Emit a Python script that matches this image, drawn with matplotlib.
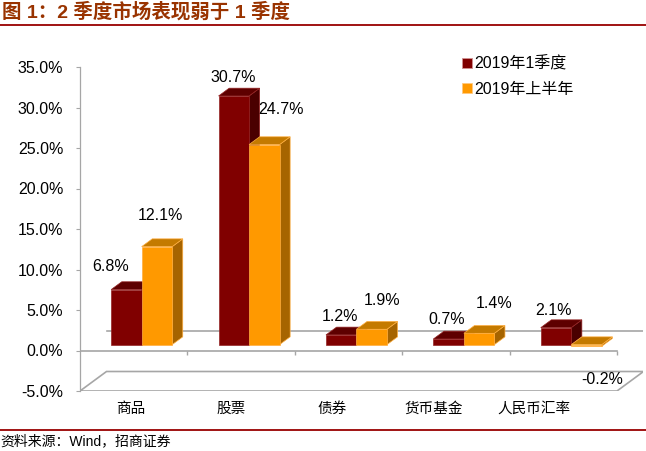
import matplotlib.pyplot as plt
from matplotlib.patches import Polygon, Patch
from matplotlib.lines import Line2D

plt.rcParams['font.family'] = ['Liberation Sans', 'Noto Sans CJK SC']

categories = ['商品', '股票', '债券', '货币基金', '人民币汇率']
q1_2019 = [6.8, 30.7, 1.2, 0.7, 2.1]
h1_2019 = [12.1, 24.7, 1.9, 1.4, -0.2]
series_names = ['2019年1季度', '2019年上半年']
y_ticks = [-5, 0, 5, 10, 15, 20, 25, 30, 35]

# label nudges in pixels (dx, dy) from the front-top centre of each bar
q1_label_nudge = [(-16, 23), (-1, 18), (-1, 18), (-2, 19), (-2, 17)]
h1_label_nudge = [(4, 31), (17, 35), (10, 29), (15, 30), (16, -33)]

W, H = 646, 451
fig = plt.figure(figsize=(W / 100, H / 100), dpi=100)

# plot box in pixels (front plane 80..617, depth goes up-right)
left_px, front_right_px, right_px, top_px, bottom_px = 80, 617, 643, 47, 391
px_per_unit = (front_right_px - left_px) / len(categories)
px_per_pct = 8.1
ax = fig.add_axes([left_px / W, (H - bottom_px) / H,
                   (right_px - left_px) / W, (bottom_px - top_px) / H])
ax.set_xlim(0, (right_px - left_px) / px_per_unit)
ax.set_ylim(-5, -5 + (bottom_px - top_px) / px_per_pct)

DX = 26.5 / px_per_unit
DY = 19.5 / px_per_pct
F0, F1 = 0.3, 0.7   # bar depth (front / back fraction)
BW = 30.5 / px_per_unit
grey = '#A6A6A6'

# floor and walls
ax.add_patch(Polygon([(0, -5), (5, -5), (5 + DX, -5 + DY), (DX, -5 + DY)],
                     closed=True, fc='white', ec=grey, lw=1.2, zorder=1))
ax.plot([DX, 5 + DX], [DY, DY], color=grey, lw=1.2, zorder=1)
ax.plot([0, 5], [0, 0], color=grey, lw=1.2, zorder=1)
ax.vlines(range(1, 6), -0.5, 0, color=grey, lw=1.0, zorder=1)

colors = {
    'q1': ('#800000', '#5E0000', '#4A0000', '#952525'),
    'h1': ('#FF9900', '#C47A00', '#A66400', '#FFAE40'),
}


def bar3d(x0, x1, v, front, top, side, edge):
    b, t = min(0, v), max(0, v)
    ax0, ay0 = F0 * DX, F0 * DY
    ax1, ay1 = F1 * DX, F1 * DY
    sd = [(x1 + ax0, b + ay0), (x1 + ax1, b + ay1), (x1 + ax1, t + ay1), (x1 + ax0, t + ay0)]
    tp = [(x0 + ax0, t + ay0), (x1 + ax0, t + ay0), (x1 + ax1, t + ay1), (x0 + ax1, t + ay1)]
    fr = [(x0 + ax0, b + ay0), (x1 + ax0, b + ay0), (x1 + ax0, t + ay0), (x0 + ax0, t + ay0)]
    for pts, c in [(sd, side), (tp, top), (fr, front)]:
        ax.add_patch(Polygon(pts, closed=True, fc=c, ec=edge, lw=0.5, zorder=3))


for i in range(len(categories)):
    c = i + 0.5
    bar3d(c - BW, c, q1_2019[i], *colors['q1'])
    bar3d(c, c + BW, h1_2019[i], *colors['h1'])

    for xc, v, (dx, dy) in [(c - BW / 2, q1_2019[i], q1_label_nudge[i]),
                            (c + BW / 2, h1_2019[i], h1_label_nudge[i])]:
        ax.annotate(f'{v:.1f}%', xy=(xc + F0 * DX, v + F0 * DY),
                    xytext=(dx * 0.72, dy * 0.72), textcoords='offset points',
                    ha='center', va='center', fontsize=11.5, zorder=5)

# axes
for s in ['top', 'right', 'bottom']:
    ax.spines[s].set_visible(False)
ax.spines['left'].set_bounds(-5, 35)
ax.spines['left'].set_color(grey)
ax.spines['left'].set_linewidth(0.9)
ax.set_yticks(y_ticks)
ax.set_yticklabels([f'{v:.1f}%' for v in y_ticks])
ax.tick_params(axis='y', length=3, color=grey, pad=9, labelsize=11.5)
ax.set_xticks([(i + 0.5) * 0.94 for i in range(len(categories))])
ax.set_xticklabels(categories)
ax.tick_params(axis='x', length=0, pad=8, labelsize=10.5)

handles = [Patch(fc='#800000', ec='#D09090', lw=0.6),
           Patch(fc='#FF9900', ec='#FFC880', lw=0.6)]
ax.legend(handles, series_names, loc='upper left', frameon=False,
          bbox_to_anchor=(462 / W, 1 - 56 / H), bbox_transform=fig.transFigure,
          borderpad=0, borderaxespad=0, handlelength=0.6, handleheight=0.6,
          handletextpad=0.15, labelspacing=0.65, fontsize=11.5)

# title, source and rules
fig.text(2 / W, 1 - 12 / H, '图 1：2 季度市场表现弱于 1 季度', fontsize=14,
         fontweight='bold', color='#993300', va='center')
fig.add_artist(Line2D([0, 1], [1 - 25 / H] * 2, color='#990000', lw=1.3))
fig.add_artist(Line2D([0, 1], [1 - 430 / H] * 2, color='#990000', lw=1.3))
fig.text(0, 1 - 441 / H, '资料来源：Wind，招商证券', fontsize=10, va='center')

fig.savefig('out.png', dpi=100)
